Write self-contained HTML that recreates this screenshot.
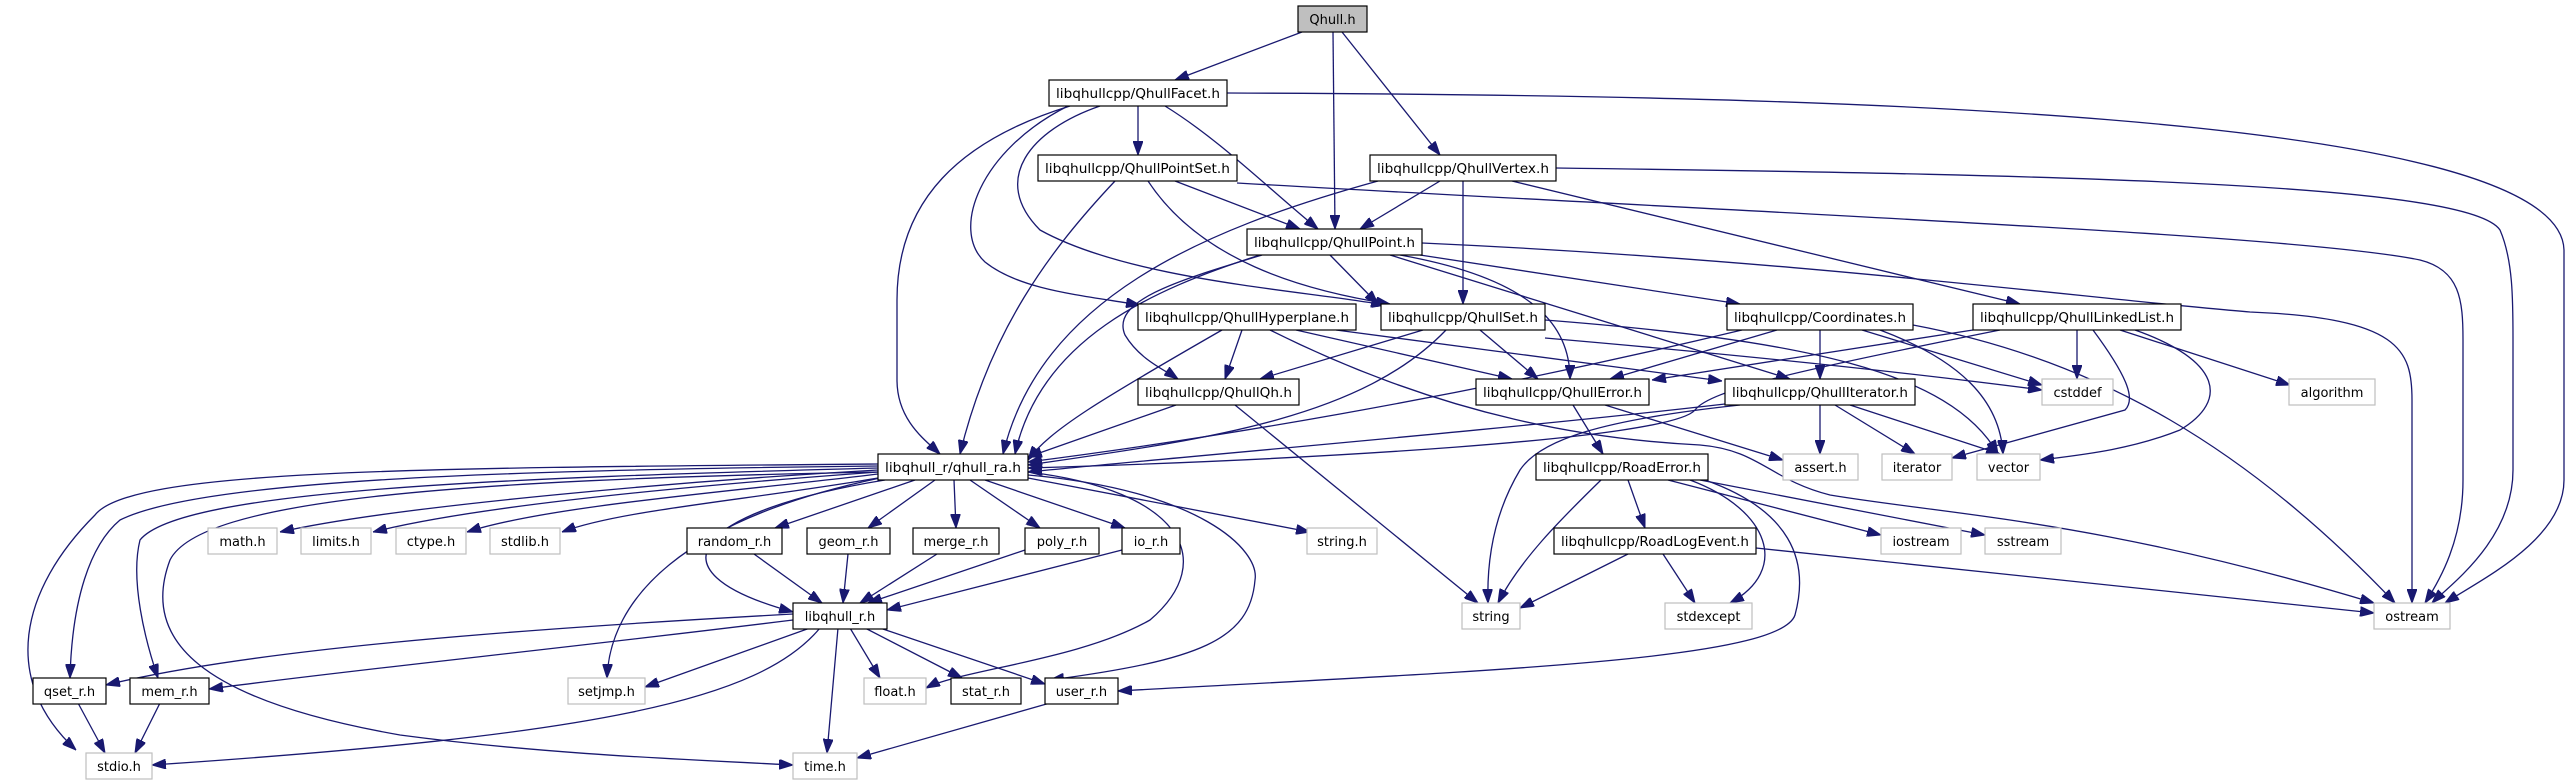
<!DOCTYPE html>
<html><head><meta charset="utf-8"><style>
html,body{margin:0;padding:0;background:#fff;}
svg{display:block;}
text{font-family:"DejaVu Sans","Liberation Sans",sans-serif;font-size:13px;fill:#000;}
.e{fill:none;stroke:#191970;stroke-width:1.3;marker-end:url(#a);}
.n{fill:#fff;stroke:#000;stroke-width:1.2;}
.s{fill:#fff;stroke:#bfbfbf;stroke-width:1.2;}
</style></head><body>
<svg width="2570" height="784" viewBox="0 0 2570 784" xmlns="http://www.w3.org/2000/svg">
<defs><marker id="a" markerUnits="userSpaceOnUse" markerWidth="14" markerHeight="10" refX="14" refY="5" orient="auto"><path d="M0,0 L14,5 L0,10 z" fill="#191970" stroke="#191970"/></marker></defs>
<g>
<!-- Qhull.h -->
<path class="e" d="M1302,32 L1175,80"/>
<path class="e" d="M1333,32 L1335,229"/>
<path class="e" d="M1342,32 L1440,155"/>
<!-- Facet -->
<path class="e" d="M1138,106 L1138,155"/>
<path class="e" d="M1165,106 C1220,140 1270,190 1318,229"/>
<path class="e" d="M1070,106 C960,140 897,200 897,300 L897,380 C897,420 925,440 940,454"/>
<path class="e" d="M1068,106 C980,150 950,230 985,262 C1020,290 1080,295 1140,305"/>
<path class="e" d="M1100,106 C1030,130 990,180 1040,230 C1130,280 1300,290 1385,305"/>
<path class="e" d="M1227,93 C1800,95 2560,110 2564,250 L2564,480 C2564,540 2480,580 2445,603"/>
<!-- PointSet -->
<path class="e" d="M1175,181 L1300,229"/>
<path class="e" d="M1148,181 C1200,260 1300,290 1390,304"/>
<path class="e" d="M1115,181 C1050,250 990,330 960,454"/>
<path class="e" d="M1237,183 C1800,215 2300,235 2420,260 C2460,270 2463,300 2463,340 L2463,480 C2463,540 2440,580 2425,603"/>
<!-- Vertex -->
<path class="e" d="M1440,181 L1360,229"/>
<path class="e" d="M1378,181 C1200,230 1040,300 1003,454"/>
<path class="e" d="M1463,181 L1463,304"/>
<path class="e" d="M1512,181 L2020,304"/>
<path class="e" d="M1556,168 C2100,175 2470,185 2500,230 C2513,260 2513,300 2513,340 L2513,470 C2513,540 2450,585 2432,603"/>
<!-- Point -->
<path class="e" d="M1330,255 L1378,304"/>
<path class="e" d="M1260,255 C1150,290 1040,340 1015,454"/>
<path class="e" d="M1262,255 C1180,280 1110,300 1125,335 C1140,360 1165,370 1178,379"/>
<path class="e" d="M1400,255 C1540,280 1570,330 1570,379"/>
<path class="e" d="M1390,255 L1790,379"/>
<path class="e" d="M1420,255 L1740,304"/>
<path class="e" d="M1422,243 C1800,260 2100,300 2250,312 C2400,318 2412,350 2412,400 L2412,603"/>
<!-- Hyperplane -->
<path class="e" d="M1242,330 L1225,379"/>
<path class="e" d="M1222,330 C1100,400 1050,430 1028,460"/>
<path class="e" d="M1296,330 L1512,379"/>
<path class="e" d="M1336,330 L1722,381"/>
<path class="e" d="M1270,330 C1450,420 1600,440 1700,445 C1760,450 1770,480 1830,495 C1950,515 2100,520 2374,603"/>
<!-- QhullSet -->
<path class="e" d="M1423,330 L1260,379"/>
<path class="e" d="M1446,330 C1360,420 1200,440 1028,465"/>
<path class="e" d="M1480,330 L1538,379"/>
<path class="e" d="M1545,338 C1800,360 1950,378 2042,390"/>
<path class="e" d="M1545,320 C1800,340 1950,370 1998,454"/>
<!-- Coordinates -->
<path class="e" d="M1777,330 L1610,379"/>
<path class="e" d="M1820,330 L1820,379"/>
<path class="e" d="M1742,330 C1450,400 1200,440 1028,462"/>
<path class="e" d="M1862,330 L2042,385"/>
<path class="e" d="M1880,330 C1960,360 2000,400 2003,454"/>
<path class="e" d="M1913,325 C2100,360 2250,450 2395,603"/>
<!-- LinkedList -->
<path class="e" d="M1973,330 L1652,380"/>
<path class="e" d="M2000,330 C1800,370 1710,390 1695,410 C1670,440 1300,460 1028,468"/>
<path class="e" d="M2077,330 L2077,379"/>
<path class="e" d="M2093,330 C2130,380 2135,400 2125,410 L1952,458"/>
<path class="e" d="M2135,330 C2220,360 2230,400 2180,430 C2130,450 2080,455 2040,460"/>
<path class="e" d="M2120,330 L2290,385"/>
<!-- QhullQh -->
<path class="e" d="M1176,405 L1028,457"/>
<path class="e" d="M1235,405 L1478,603"/>
<!-- QhullError -->
<path class="e" d="M1573,405 L1603,454"/>
<path class="e" d="M1605,405 L1783,460"/>
<!-- QhullIterator -->
<path class="e" d="M1725,404 C1500,430 1200,455 1028,472"/>
<path class="e" d="M1740,405 C1600,420 1540,440 1520,470 C1490,520 1487,570 1488,603"/>
<path class="e" d="M1820,405 L1820,454"/>
<path class="e" d="M1835,405 L1915,454"/>
<path class="e" d="M1850,405 L2000,454"/>
<!-- RoadError -->
<path class="e" d="M1601,480 C1560,520 1520,560 1498,603"/>
<path class="e" d="M1628,480 L1645,528"/>
<path class="e" d="M1690,480 C1770,510 1790,570 1730,603"/>
<path class="e" d="M1668,480 L1881,535"/>
<path class="e" d="M1700,480 L1985,535"/>
<path class="e" d="M1705,480 C1790,510 1810,560 1795,615 C1780,660 1500,670 1118,691"/>
<!-- RoadLogEvent -->
<path class="e" d="M1628,554 L1520,608"/>
<path class="e" d="M1663,554 L1695,603"/>
<path class="e" d="M1756,548 L2374,613"/>
<!-- qhull_ra -->
<path class="e" d="M878,470 C700,480 400,505 280,532"/>
<path class="e" d="M878,472 C700,485 480,505 373,532"/>
<path class="e" d="M878,474 C750,490 550,505 467,532"/>
<path class="e" d="M878,478 C750,500 620,510 562,532"/>
<path class="e" d="M915,480 L775,528"/>
<path class="e" d="M935,480 L868,528"/>
<path class="e" d="M954,480 L956,528"/>
<path class="e" d="M970,480 L1040,528"/>
<path class="e" d="M985,480 L1125,528"/>
<path class="e" d="M1028,478 L1310,532"/>
<path class="e" d="M885,480 C700,510 640,570 793,612"/>
<path class="e" d="M880,478 C680,520 610,600 607,678"/>
<path class="e" d="M878,466 C500,470 200,480 120,520 C90,545 72,600 70,678"/>
<path class="e" d="M878,468 C500,478 180,490 140,540 C130,580 145,640 158,678"/>
<path class="e" d="M878,464 C400,468 130,470 95,515 C20,590 0,680 76,750"/>
<path class="e" d="M878,472 C450,480 200,500 170,560 C140,640 200,700 400,735 C550,755 700,760 793,765"/>
<path class="e" d="M1028,472 C1180,490 1220,560 1150,620 C1080,660 960,670 926,688"/>
<path class="e" d="M1028,475 C1200,490 1260,550 1255,580 C1250,640 1200,660 1050,680"/>
<!-- libqhull_r -->
<path class="e" d="M793,614 C500,630 250,650 106,685"/>
<path class="e" d="M793,620 C550,650 350,670 209,689"/>
<path class="e" d="M810,628 L645,687"/>
<path class="e" d="M820,628 C760,700 600,735 152,765"/>
<path class="e" d="M850,628 L880,678"/>
<path class="e" d="M865,628 L962,678"/>
<path class="e" d="M880,628 L1045,684"/>
<path class="e" d="M838,628 L827,753"/>
<!-- bottom -->
<path class="e" d="M78,703 L105,753"/>
<path class="e" d="M160,703 L135,753"/>
<path class="e" d="M1050,703 L857,758"/>
<path class="e" d="M754,554 L822,603"/>
<path class="e" d="M848,554 L843,603"/>
<path class="e" d="M937,554 L860,603"/>
<path class="e" d="M1025,550 L868,603"/>
<path class="e" d="M1122,550 L887,610"/>
</g>
<g text-anchor="middle">
<rect x="1298" y="6" width="69" height="26" fill="#bfbfbf" stroke="#000" stroke-width="1.2"/><text x="1332.5" y="24">Qhull.h</text>
<rect class="n" x="1049" y="80" width="178" height="26"/><text x="1138" y="98" textLength="164" lengthAdjust="spacingAndGlyphs">libqhullcpp/QhullFacet.h</text>
<rect class="n" x="1038" y="155" width="199" height="26"/><text x="1137.5" y="173" textLength="185" lengthAdjust="spacingAndGlyphs">libqhullcpp/QhullPointSet.h</text>
<rect class="n" x="1370" y="155" width="186" height="26"/><text x="1463" y="173" textLength="172" lengthAdjust="spacingAndGlyphs">libqhullcpp/QhullVertex.h</text>
<rect class="n" x="1247" y="229" width="175" height="26"/><text x="1334.5" y="247" textLength="161" lengthAdjust="spacingAndGlyphs">libqhullcpp/QhullPoint.h</text>
<rect class="n" x="1138" y="304" width="218" height="26"/><text x="1247" y="322" textLength="204" lengthAdjust="spacingAndGlyphs">libqhullcpp/QhullHyperplane.h</text>
<rect class="n" x="1381" y="304" width="164" height="26"/><text x="1463" y="322" textLength="150" lengthAdjust="spacingAndGlyphs">libqhullcpp/QhullSet.h</text>
<rect class="n" x="1727" y="304" width="186" height="26"/><text x="1820" y="322" textLength="172" lengthAdjust="spacingAndGlyphs">libqhullcpp/Coordinates.h</text>
<rect class="n" x="1973" y="304" width="208" height="26"/><text x="2077" y="322" textLength="194" lengthAdjust="spacingAndGlyphs">libqhullcpp/QhullLinkedList.h</text>
<rect class="n" x="1138" y="379" width="161" height="26"/><text x="1218.5" y="397" textLength="147" lengthAdjust="spacingAndGlyphs">libqhullcpp/QhullQh.h</text>
<rect class="n" x="1476" y="379" width="173" height="26"/><text x="1562.5" y="397" textLength="159" lengthAdjust="spacingAndGlyphs">libqhullcpp/QhullError.h</text>
<rect class="n" x="1725" y="379" width="190" height="26"/><text x="1820" y="397" textLength="176" lengthAdjust="spacingAndGlyphs">libqhullcpp/QhullIterator.h</text>
<rect class="s" x="2042" y="379" width="71" height="26"/><text x="2077.5" y="397">cstddef</text>
<rect class="s" x="2289" y="379" width="86" height="26"/><text x="2332" y="397">algorithm</text>
<rect class="n" x="878" y="454" width="150" height="26"/><text x="953" y="472" textLength="136" lengthAdjust="spacingAndGlyphs">libqhull_r/qhull_ra.h</text>
<rect class="n" x="1536" y="454" width="172" height="26"/><text x="1622" y="472" textLength="158" lengthAdjust="spacingAndGlyphs">libqhullcpp/RoadError.h</text>
<rect class="s" x="1783" y="454" width="75" height="26"/><text x="1820.5" y="472">assert.h</text>
<rect class="s" x="1882" y="454" width="70" height="26"/><text x="1917" y="472">iterator</text>
<rect class="s" x="1977" y="454" width="63" height="26"/><text x="2008.5" y="472">vector</text>
<rect class="s" x="208" y="528" width="69" height="26"/><text x="242.5" y="546">math.h</text>
<rect class="s" x="301" y="528" width="70" height="26"/><text x="336" y="546">limits.h</text>
<rect class="s" x="396" y="528" width="70" height="26"/><text x="431" y="546">ctype.h</text>
<rect class="s" x="490" y="528" width="70" height="26"/><text x="525" y="546">stdlib.h</text>
<rect class="n" x="687" y="528" width="95" height="26"/><text x="734.5" y="546">random_r.h</text>
<rect class="n" x="807" y="528" width="83" height="26"/><text x="848.5" y="546">geom_r.h</text>
<rect class="n" x="913" y="528" width="86" height="26"/><text x="956" y="546">merge_r.h</text>
<rect class="n" x="1025" y="528" width="74" height="26"/><text x="1062" y="546">poly_r.h</text>
<rect class="n" x="1122" y="528" width="58" height="26"/><text x="1151" y="546">io_r.h</text>
<rect class="s" x="1307" y="528" width="70" height="26"/><text x="1342" y="546">string.h</text>
<rect class="n" x="1554" y="528" width="202" height="26"/><text x="1655" y="546" textLength="188" lengthAdjust="spacingAndGlyphs">libqhullcpp/RoadLogEvent.h</text>
<rect class="s" x="1881" y="528" width="80" height="26"/><text x="1921" y="546">iostream</text>
<rect class="s" x="1985" y="528" width="76" height="26"/><text x="2023" y="546">sstream</text>
<rect class="n" x="793" y="603" width="94" height="26"/><text x="840" y="621">libqhull_r.h</text>
<rect class="s" x="1462" y="603" width="58" height="26"/><text x="1491" y="621">string</text>
<rect class="s" x="1665" y="603" width="87" height="26"/><text x="1708.5" y="621">stdexcept</text>
<rect class="s" x="2374" y="603" width="76" height="26"/><text x="2412" y="621">ostream</text>
<rect class="n" x="33" y="678" width="73" height="26"/><text x="69.5" y="696">qset_r.h</text>
<rect class="n" x="130" y="678" width="79" height="26"/><text x="169.5" y="696">mem_r.h</text>
<rect class="s" x="568" y="678" width="77" height="26"/><text x="606.5" y="696">setjmp.h</text>
<rect class="s" x="864" y="678" width="62" height="26"/><text x="895" y="696">float.h</text>
<rect class="n" x="951" y="678" width="70" height="26"/><text x="986" y="696">stat_r.h</text>
<rect class="n" x="1045" y="678" width="73" height="26"/><text x="1081.5" y="696">user_r.h</text>
<rect class="s" x="86" y="753" width="66" height="26"/><text x="119" y="771">stdio.h</text>
<rect class="s" x="793" y="753" width="64" height="26"/><text x="825" y="771">time.h</text>
</g>
</svg>
</body></html>
